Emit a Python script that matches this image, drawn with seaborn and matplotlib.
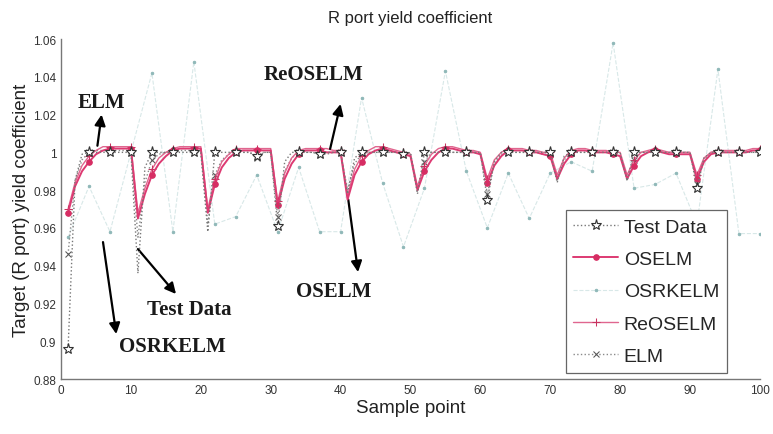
import numpy as np
import pandas as pd
import matplotlib
matplotlib.use('Agg')
import matplotlib.pyplot as plt
import seaborn as sns

# sample axis
samples = list(range(1, 101))

# values, one row per 10 samples
test_data = [
    0.896, 0.985, 0.999, 1.000, 1.000, 1.000, 1.000, 1.000, 1.000, 1.000,
    0.936, 0.992, 1.000, 1.000, 1.000, 1.000, 1.000, 1.000, 1.000, 1.000,
    0.958, 1.000, 1.000, 1.000, 1.000, 1.000, 1.000, 0.998, 1.000, 1.000,
    0.961, 0.995, 1.000, 1.000, 1.000, 1.000, 0.999, 1.000, 1.000, 1.000,
    0.978, 0.997, 1.000, 1.000, 1.000, 1.000, 1.000, 1.000, 0.999, 1.000,
    0.978, 1.000, 1.000, 1.000, 1.000, 1.000, 1.000, 1.000, 1.000, 1.000,
    0.975, 0.995, 1.000, 1.000, 1.000, 1.000, 1.000, 1.000, 1.000, 1.000,
    0.984, 0.998, 1.000, 1.000, 1.000, 1.000, 1.000, 1.000, 1.000, 1.000,
    0.985, 1.000, 1.000, 1.000, 1.000, 1.000, 1.000, 1.000, 1.000, 1.000,
    0.981, 0.997, 1.000, 1.000, 1.000, 1.000, 1.000, 1.000, 1.000, 1.000,
]

oselm = [
    0.968, 0.982, 0.990, 0.995, 0.999, 1.001, 1.002, 1.002, 1.002, 1.002,
    0.965, 0.978, 0.988, 0.994, 0.998, 1.001, 1.002, 1.002, 1.002, 1.002,
    0.968, 0.983, 0.992, 0.997, 1.000, 1.001, 1.001, 1.001, 1.001, 1.001,
    0.972, 0.986, 0.994, 0.999, 1.001, 1.001, 1.001, 1.000, 1.000, 1.000,
    0.975, 0.988, 0.995, 0.999, 1.001, 1.002, 1.001, 1.000, 0.999, 0.998,
    0.980, 0.990, 0.996, 1.000, 1.002, 1.002, 1.001, 1.000, 1.000, 0.999,
    0.984, 0.993, 0.998, 1.001, 1.001, 1.001, 1.000, 1.000, 0.999, 0.998,
    0.986, 0.994, 0.999, 1.001, 1.001, 1.000, 1.000, 1.000, 0.999, 0.998,
    0.986, 0.993, 0.998, 1.000, 1.001, 1.000, 0.999, 0.999, 0.999, 0.999,
    0.986, 0.995, 0.999, 1.000, 1.000, 1.000, 1.000, 1.000, 1.001, 1.001,
]

reoselm = [
    0.970, 0.984, 0.993, 0.998, 1.001, 1.003, 1.003, 1.003, 1.003, 1.003,
    0.968, 0.981, 0.991, 0.997, 1.000, 1.002, 1.003, 1.003, 1.003, 1.003,
    0.970, 0.986, 0.995, 0.999, 1.002, 1.002, 1.002, 1.002, 1.002, 1.002,
    0.974, 0.989, 0.997, 1.001, 1.002, 1.002, 1.002, 1.002, 1.001, 1.001,
    0.977, 0.991, 0.998, 1.001, 1.003, 1.003, 1.002, 1.001, 1.000, 0.999,
    0.982, 0.993, 0.999, 1.002, 1.003, 1.003, 1.002, 1.001, 1.001, 1.000,
    0.986, 0.996, 1.000, 1.002, 1.002, 1.002, 1.001, 1.001, 1.000, 1.000,
    0.988, 0.997, 1.001, 1.002, 1.002, 1.001, 1.001, 1.001, 1.000, 1.000,
    0.988, 0.996, 1.000, 1.001, 1.002, 1.001, 1.000, 1.000, 1.000, 1.000,
    0.988, 0.997, 1.000, 1.001, 1.001, 1.001, 1.001, 1.001, 1.002, 1.002,
]

elm = [
    0.946, 0.985, 0.996, 1.000, 1.001, 1.001, 1.001, 1.001, 1.001, 1.001,
    0.955, 0.984, 0.996, 0.999, 1.000, 1.000, 1.001, 1.001, 1.001, 1.001,
    0.962, 0.988, 0.996, 0.999, 1.000, 1.000, 1.000, 0.997, 1.000, 1.000,
    0.966, 0.990, 0.997, 1.000, 1.000, 1.000, 0.999, 0.999, 1.000, 1.000,
    0.980, 0.994, 0.999, 1.000, 1.000, 1.000, 1.000, 1.000, 0.999, 0.999,
    0.979, 0.995, 1.000, 1.000, 1.000, 1.000, 1.000, 1.000, 1.000, 0.999,
    0.978, 0.994, 0.999, 1.000, 1.000, 1.000, 1.000, 1.000, 0.999, 0.999,
    0.985, 0.996, 1.000, 1.000, 1.000, 1.000, 1.000, 1.000, 1.000, 0.999,
    0.985, 0.996, 1.000, 1.000, 1.000, 1.000, 1.000, 1.000, 1.000, 1.000,
    0.983, 0.996, 1.000, 1.000, 1.000, 1.000, 1.000, 1.000, 1.000, 1.000,
]

# OSRKELM only visible at every third sample
osrkelm_x = list(range(1, 101, 3))
osrkelm = [
    0.955, 0.982, 0.958, 1.000, 1.042, 0.958, 1.048, 0.962, 0.966, 0.988,
    0.958, 0.992, 0.958, 0.958, 1.029, 0.984, 0.950, 0.981, 1.043, 0.990,
    0.960, 0.989, 0.965, 0.989, 0.995, 0.990, 1.058, 0.981, 0.983, 0.989,
    0.962, 1.044, 0.957, 0.957,
]

sns.set_style('white')
plt.rcParams['font.family'] = ['Liberation Sans', 'DejaVu Sans']

fig = plt.figure(figsize=(7.73, 4.35), dpi=100)
ax = fig.add_axes([0.079, 0.1264, 0.904, 0.7816])

pink = '#dd3a72'
sns.lineplot(x=osrkelm_x, y=osrkelm, ax=ax, color='#d8e8e8', linestyle='--', linewidth=0.8,
             marker='.', markersize=3.5, markerfacecolor='#8fb8b8', markeredgecolor='#8fb8b8',
             label='OSRKELM', zorder=1)
sns.lineplot(x=samples, y=elm, ax=ax, color='#8a8a8a', linestyle=':', linewidth=1.0,
             marker='x', markersize=4, markevery=3, markeredgecolor='#555555',
             label='ELM', zorder=2)
sns.lineplot(x=samples, y=test_data, ax=ax, color='#777777', linestyle=':', linewidth=1.0,
             marker='*', markersize=8, markevery=3, markerfacecolor='white',
             markeredgecolor='#333333', markeredgewidth=0.8, label='Test Data', zorder=5)
sns.lineplot(x=samples, y=reoselm, ax=ax, color='#e0668f', linewidth=1.0,
             marker='+', markersize=6, markevery=3, markeredgecolor='#c8325f',
             label='ReOSELM', zorder=3)
sns.lineplot(x=samples, y=oselm, ax=ax, color=pink, linewidth=1.4,
             marker='o', markersize=4, markevery=3, markerfacecolor='#d62d63',
             markeredgecolor='#d62d63', label='OSELM', zorder=4)

ax.set_xlim(0, 100)
ax.set_ylim(0.88, 1.06)
ax.set_xticks(np.arange(0, 101, 10))
ax.set_yticks(np.arange(0.88, 1.0601, 0.02))
ax.set_yticklabels(['%g' % round(v, 2) for v in np.arange(0.88, 1.0601, 0.02)])
ax.tick_params(direction='in', length=4, colors='#333333', labelsize=8.5)
for side in ['top', 'right']:
    ax.spines[side].set_visible(False)
for side in ['left', 'bottom']:
    ax.spines[side].set_color('#777777')
    ax.spines[side].set_linewidth(1.0)

ax.set_title('R port yield coefficient', fontsize=12, color='#222222', pad=12)
ax.set_xlabel('Sample point', fontsize=13.5, color='#222222', labelpad=2)
ax.set_ylabel('Target (R port) yield coefficient', fontsize=13.5, color='#222222', labelpad=2)

# arrows with labels
arrow = dict(arrowprops=dict(arrowstyle='-|>', color='black', lw=1.6, mutation_scale=16,
                             shrinkA=0, shrinkB=0))
txt = dict(fontsize=15, fontweight='bold', family='Liberation Serif', color='#1a1a1a',
           ha='center', va='center')
ax.annotate('', xy=(5.8, 1.020), xytext=(5.2, 1.0035), **arrow)
ax.text(5.8, 1.0266, 'ELM', **txt)
ax.annotate('', xy=(40.0, 1.0256), xytext=(38.5, 1.0018), **arrow)
ax.text(36.1, 1.0414, 'ReOSELM', **txt)
ax.annotate('', xy=(42.5, 0.9366), xytext=(41.1, 0.975), **arrow)
ax.text(39.0, 0.9266, 'OSELM', **txt)
ax.annotate('', xy=(16.45, 0.925), xytext=(11.0, 0.9488), **arrow)
ax.text(18.35, 0.917, 'Test Data', **txt)
ax.annotate('', xy=(7.9, 0.9038), xytext=(6.0, 0.9525), **arrow)
ax.text(15.9, 0.8975, 'OSRKELM', **txt)

handles, labels = ax.get_legend_handles_labels()
order = ['Test Data', 'OSELM', 'OSRKELM', 'ReOSELM', 'ELM']
hmap = dict(zip(labels, handles))
leg = ax.legend([hmap[k] for k in order], order, loc='lower right',
                bbox_to_anchor=(0.953, 0.018), borderaxespad=0, fontsize=14, frameon=True,
                fancybox=False, framealpha=1, edgecolor='#666666',
                handlelength=2.3, handletextpad=0.3, labelspacing=0.76,
                borderpad=0.4)
leg.get_frame().set_linewidth(0.9)

fig.savefig('out.png', dpi=100)
